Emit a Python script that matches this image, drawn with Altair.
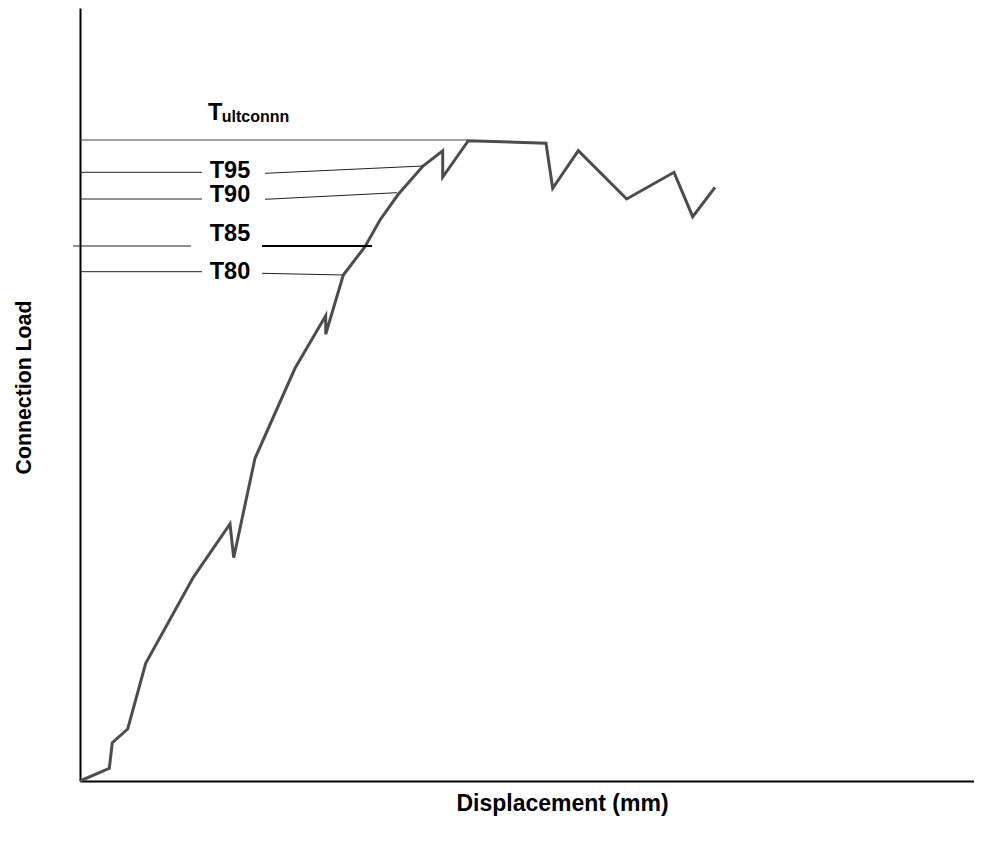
import altair as alt
import pandas as pd

# Load-displacement curve (arbitrary units)
disp = [0, 2.93, 3.23, 4.77, 6.57, 11.33, 15.0, 15.37, 17.5, 21.5, 24.57, 24.57,
        26.33, 28.5, 30.0, 31.83, 34.3, 36.27, 36.27, 38.83, 46.6, 47.27, 49.83,
        54.67, 59.4, 61.27, 63.5]
load = [0, 1.27, 3.83, 5.2, 11.77, 20.37, 25.7, 22.33, 32.27, 41.27, 46.53, 44.67,
        50.6, 53.43, 56.1, 58.67, 61.5, 63.03, 60.4, 64.03, 63.77, 59.27, 63.03,
        58.2, 60.87, 56.43, 59.37]

# Threshold labels and their leader lines
labels = ["T95", "T90", "T85", "T80"]
label_x = [15.0, 15.0, 15.0, 15.0]
label_y = [60.35, 57.93, 54.05, 50.25]

left_x1 = [0, 0, -0.7, 0]
left_x2 = [12.2, 12.2, 11.1, 12.2]
left_y = [60.87, 58.2, 53.5, 50.93]

right_x1 = [18.5, 18.5, 18.2]
right_y1 = [60.77, 58.17, 50.77]
right_x2 = [34.3, 31.7, 26.3]
right_y2 = [61.5, 58.83, 50.6]

t85_x1, t85_x2, t85_y = [18.2], [29.2], [53.5]

ult_x1, ult_x2, ult_y = [0], [38.8], [64.1]
ult_main, ult_sub = ["T"], ["ultconnn"]
ult_main_x, ult_sub_x = [12.8], [14.17]
ult_main_y, ult_sub_y = [66.1], [65.93]

FONT = "Liberation Sans"

xs = alt.Scale(domain=[0, 89.4], nice=False, zero=False)
ys = alt.Scale(domain=[0, 77.3], nice=False, zero=False)

curve_df = pd.DataFrame({"disp": disp, "load": load})

base_x_axis = alt.Axis(title="Displacement (mm)", ticks=False, labels=False, grid=False,
                       domainColor="black", domainWidth=2, titleFont=FONT, titleFontSize=23,
                       titleFontWeight="bold", titleColor="black", titlePadding=11, titleX=482)
base_y_axis = alt.Axis(title="Connection Load", ticks=False, labels=False, grid=False,
                       domainColor="black", domainWidth=2, titleFont=FONT, titleFontSize=21.3,
                       titleFontWeight="bold", titleColor="black", titlePadding=46, titleY=379)

curve = alt.Chart(curve_df).mark_line(color="#4d4d4d", strokeWidth=3, clip=False).encode(
    x=alt.X("disp:Q", scale=xs, axis=base_x_axis),
    y=alt.Y("load:Q", scale=ys, axis=base_y_axis),
    order="idx:O",
).transform_window(idx="row_number()")

left_df = pd.DataFrame({"x1": left_x1, "x2": left_x2, "y": left_y})
left_rules = alt.Chart(left_df).mark_rule(color="#222", strokeWidth=1, clip=False).encode(
    x=alt.X("x1:Q", scale=xs), x2="x2:Q", y=alt.Y("y:Q", scale=ys))

right_df = pd.DataFrame({"x1": right_x1, "x2": right_x2, "y1": right_y1, "y2": right_y2})
right_rules = alt.Chart(right_df).mark_rule(color="#222", strokeWidth=1, clip=False).encode(
    x=alt.X("x1:Q", scale=xs), x2="x2:Q", y=alt.Y("y1:Q", scale=ys), y2="y2:Q")

t85_df = pd.DataFrame({"x1": t85_x1, "x2": t85_x2, "y": t85_y})
t85_rule = alt.Chart(t85_df).mark_rule(color="black", strokeWidth=2, clip=False).encode(
    x=alt.X("x1:Q", scale=xs), x2="x2:Q", y=alt.Y("y:Q", scale=ys))

ult_df = pd.DataFrame({"x1": ult_x1, "x2": ult_x2, "y": ult_y})
ult_rule = alt.Chart(ult_df).mark_rule(color="#444", strokeWidth=1, clip=False).encode(
    x=alt.X("x1:Q", scale=xs), x2="x2:Q", y=alt.Y("y:Q", scale=ys))

lab_df = pd.DataFrame({"label": labels, "x": label_x, "y": label_y})
lab_text = alt.Chart(lab_df).mark_text(font=FONT, fontSize=23.5, fontWeight="bold", color="black",
                                       align="center", baseline="alphabetic").encode(
    x=alt.X("x:Q", scale=xs), y=alt.Y("y:Q", scale=ys), text="label:N")

ult_main_df = pd.DataFrame({"t": ult_main, "x": ult_main_x, "y": ult_main_y})
ult_main_text = alt.Chart(ult_main_df).mark_text(font=FONT, fontSize=23.5, fontWeight="bold",
                                                 color="black", align="left",
                                                 baseline="alphabetic").encode(
    x=alt.X("x:Q", scale=xs), y=alt.Y("y:Q", scale=ys), text="t:N")

ult_sub_df = pd.DataFrame({"t": ult_sub, "x": ult_sub_x, "y": ult_sub_y})
ult_sub_text = alt.Chart(ult_sub_df).mark_text(font=FONT, fontSize=16, fontWeight="bold",
                                               color="black", align="left",
                                               baseline="alphabetic").encode(
    x=alt.X("x:Q", scale=xs), y=alt.Y("y:Q", scale=ys), text="t:N")

chart = alt.layer(
    curve, ult_rule, left_rules, right_rules, t85_rule, lab_text, ult_main_text, ult_sub_text
).properties(
    width=894, height=773,
    background="white",
    autosize=alt.AutoSizeParams(type="none"),
    padding={"left": 72, "top": 0, "right": 0, "bottom": 40},
).configure_view(stroke=None).configure_axis(grid=False, ticks=False, labels=False)

chart.save("out.html", embed_options={"renderer": "svg", "actions": False})
